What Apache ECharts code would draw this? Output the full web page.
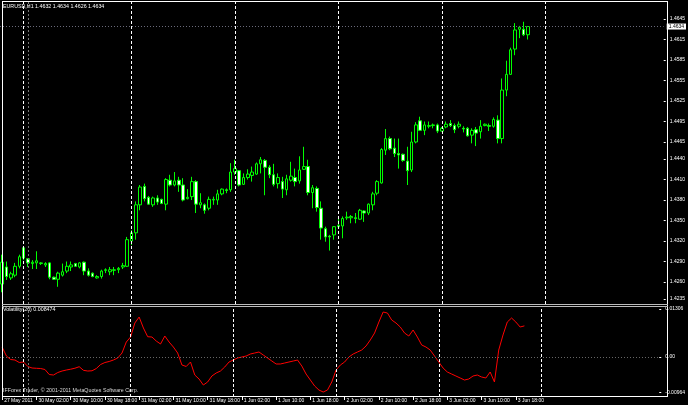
<!DOCTYPE html>
<html><head><meta charset="utf-8">
<script src="https://cdn.jsdelivr.net/npm/echarts@6/dist/echarts.min.js"></script>
<style>html,body{margin:0;padding:0;background:#000;}#c{width:688px;height:405px;}</style>
</head><body><div id="c"></div>
<script>
const symbolTitle = 'EURUSD,H1 1.4632 1.4634 1.4626 1.4634';
const indicatorTitle = 'Volatility(20) 0.008474';
const footerText = 'IFForex Trader, \u00a9 2001-2011 MetaQuotes Software Corp.';

const open = [1.4257,1.4282,1.4266,1.4270,1.4283,1.4310,1.4294,1.4287,1.4288,1.4287,
1.4285,1.4288,1.4267,1.4264,1.4270,1.4276,1.4282,1.4287,1.4282,1.4289,
1.4276,1.4273,1.4266,1.4268,1.4277,1.4275,1.4277,1.4278,1.4282,1.4283,
1.4320,1.4332,1.4373,1.4400,1.4384,1.4373,1.4383,1.4381,1.4374,1.4409,
1.4402,1.4409,1.4402,1.4382,1.4385,1.4407,1.4373,1.4373,1.4368,1.4380,
1.4380,1.4389,1.4395,1.4395,1.4421,1.4423,1.4403,1.4413,1.4416,1.4418,
1.4433,1.4438,1.4428,1.4417,1.4404,1.4407,1.4395,1.4409,1.4413,1.4408,
1.4425,1.4429,1.4391,1.4397,1.4368,1.4338,1.4327,1.4329,1.4341,1.4342,
1.4354,1.4354,1.4354,1.4352,1.4364,1.4361,1.4373,1.4390,1.4405,1.4453,
1.4470,1.4456,1.4448,1.4447,1.4437,1.4424,1.4465,1.4496,1.4482,1.4488,
1.4489,1.4490,1.4481,1.4487,1.4492,1.4489,1.4488,1.4485,1.4485,1.4475,
1.4483,1.4480,1.4489,1.4489,1.4488,1.4497,1.4470,1.4541,1.4564,1.4601,
1.4630,1.4630,1.4622];
const high = [1.4300,1.4290,1.4275,1.4288,1.4300,1.4311,1.4295,1.4292,1.4305,1.4289,
1.4289,1.4289,1.4268,1.4275,1.4287,1.4290,1.4290,1.4288,1.4289,1.4290,
1.4280,1.4274,1.4270,1.4278,1.4280,1.4282,1.4282,1.4282,1.4288,1.4326,
1.4336,1.4378,1.4402,1.4404,1.4386,1.4385,1.4387,1.4382,1.4412,1.4417,
1.4421,1.4414,1.4412,1.4396,1.4414,1.4409,1.4390,1.4375,1.4385,1.4385,
1.4395,1.4397,1.4397,1.4434,1.4439,1.4424,1.4419,1.4425,1.4429,1.4435,
1.4443,1.4440,1.4431,1.4433,1.4419,1.4414,1.4417,1.4436,1.4426,1.4444,
1.4458,1.4439,1.4402,1.4400,1.4378,1.4341,1.4329,1.4342,1.4353,1.4356,
1.4363,1.4358,1.4361,1.4367,1.4365,1.4375,1.4392,1.4409,1.4456,1.4484,
1.4473,1.4470,1.4470,1.4448,1.4458,1.4480,1.4494,1.4502,1.4495,1.4495,
1.4492,1.4492,1.4487,1.4495,1.4497,1.4492,1.4495,1.4488,1.4487,1.4485,
1.4487,1.4497,1.4492,1.4492,1.4501,1.4504,1.4558,1.4584,1.4603,1.4639,
1.4635,1.4641,1.4634];
const low = [1.4245,1.4263,1.4263,1.4267,1.4280,1.4292,1.4282,1.4279,1.4279,1.4285,
1.4282,1.4264,1.4263,1.4253,1.4268,1.4273,1.4276,1.4282,1.4280,1.4270,
1.4268,1.4267,1.4265,1.4265,1.4273,1.4270,1.4270,1.4273,1.4279,1.4282,
1.4314,1.4322,1.4365,1.4378,1.4373,1.4370,1.4373,1.4374,1.4365,1.4400,
1.4400,1.4392,1.4378,1.4381,1.4380,1.4361,1.4368,1.4360,1.4365,1.4373,
1.4373,1.4387,1.4390,1.4392,1.4417,1.4400,1.4402,1.4410,1.4407,1.4417,
1.4419,1.4387,1.4412,1.4400,1.4397,1.4383,1.4387,1.4407,1.4400,1.4404,
1.4424,1.4387,1.4368,1.4363,1.4322,1.4319,1.4306,1.4322,1.4339,1.4324,
1.4351,1.4346,1.4346,1.4351,1.4348,1.4358,1.4365,1.4387,1.4404,1.4446,
1.4453,1.4443,1.4426,1.4436,1.4402,1.4421,1.4463,1.4481,1.4475,1.4485,
1.4485,1.4478,1.4480,1.4485,1.4487,1.4478,1.4485,1.4479,1.4473,1.4463,
1.4459,1.4470,1.4488,1.4481,1.4486,1.4463,1.4463,1.4532,1.4563,1.4592,
1.4617,1.4620,1.4615];
const close = [1.4289,1.4268,1.4272,1.4283,1.4297,1.4295,1.4288,1.4289,1.4291,1.4288,
1.4287,1.4267,1.4264,1.4273,1.4275,1.4283,1.4285,1.4283,1.4288,1.4276,
1.4270,1.4268,1.4268,1.4276,1.4278,1.4278,1.4278,1.4280,1.4284,1.4322,
1.4332,1.4373,1.4399,1.4382,1.4374,1.4383,1.4377,1.4375,1.4410,1.4402,
1.4408,1.4402,1.4380,1.4384,1.4407,1.4374,1.4376,1.4365,1.4381,1.4381,
1.4389,1.4396,1.4394,1.4421,1.4426,1.4402,1.4413,1.4418,1.4421,1.4433,
1.4439,1.4428,1.4417,1.4403,1.4413,1.4396,1.4411,1.4415,1.4407,1.4424,
1.4429,1.4391,1.4398,1.4369,1.4339,1.4326,1.4326,1.4341,1.4343,1.4353,
1.4355,1.4356,1.4353,1.4365,1.4361,1.4374,1.4389,1.4407,1.4454,1.4470,
1.4455,1.4448,1.4446,1.4438,1.4423,1.4465,1.4490,1.4482,1.4490,1.4489,
1.4490,1.4481,1.4485,1.4491,1.4489,1.4483,1.4491,1.4484,1.4474,1.4482,
1.4478,1.4488,1.4491,1.4488,1.4498,1.4470,1.4541,1.4564,1.4600,1.4629,
1.4633,1.4622,1.4634];
const volatility = [0.00272,0.00027,-0.00068,-0.00082,-0.00150,-0.00136,-0.00258,-0.00299,-0.00307,-0.00313,
-0.00340,-0.00476,-0.00490,-0.00422,-0.00381,-0.00354,-0.00332,-0.00305,-0.00264,-0.00362,
-0.00381,-0.00375,-0.00313,-0.00204,-0.00150,-0.00122,-0.00082,-0.00027,0.00109,0.00408,
0.00544,0.00925,0.01088,0.00789,0.00552,0.00544,0.00435,0.00354,0.00571,0.00408,
0.00272,0.00109,-0.00218,-0.00258,-0.00136,-0.00490,-0.00599,-0.00762,-0.00680,-0.00517,
-0.00435,-0.00381,-0.00272,-0.00136,-0.00082,-0.00027,0.00000,0.00027,0.00082,0.00109,
0.00136,0.00054,-0.00027,-0.00109,-0.00190,-0.00190,-0.00163,-0.00136,-0.00109,-0.00082,
-0.00245,-0.00463,-0.00626,-0.00789,-0.00898,-0.00952,-0.00898,-0.00680,-0.00354,-0.00218,
-0.00136,0.00000,0.00082,0.00136,0.00190,0.00299,0.00463,0.00653,0.00952,0.01224,
0.01197,0.01007,0.00925,0.00816,0.00653,0.00571,0.00735,0.00544,0.00327,0.00272,
0.00190,0.00027,-0.00136,-0.00299,-0.00408,-0.00463,-0.00517,-0.00571,-0.00626,-0.00599,
-0.00517,-0.00490,-0.00544,-0.00571,-0.00408,-0.00680,0.00190,0.00599,0.00952,0.01061,
0.00952,0.00816,0.00847];

const priceTicks = [1.4645,1.4615,1.4585,1.4555,1.4525,1.4495,1.4465,1.4440,1.4410,1.4380,1.4350,1.4320,1.4290,1.4260,1.4235];
const indicatorTicks = [0.01306, 0, -0.00964];
const tickLabels = ['27 May 2011','30 May 02:00','30 May 10:00','30 May 18:00','31 May 02:00','31 May 10:00','31 May 18:00','1 Jun 02:00','1 Jun 10:00','1 Jun 18:00','2 Jun 02:00','2 Jun 10:00','2 Jun 18:00','3 Jun 02:00','3 Jun 10:00','3 Jun 18:00'];
const separators = ['27 May 23:00','31 May 00:00','1 Jun 00:00','2 Jun 00:00','3 Jun 00:00','4 Jun 00:00'];
const dimSeparators = ['30 May 00:00'];
const sessionDays = [['27 May',18],['30 May',0],['31 May',0],['1 Jun',0],['2 Jun',0],['3 Jun',0],['4 Jun',0],['5 Jun',0]];
const slotCount = 154;

const categories = [];
sessionDays.forEach(([d, h0]) => { for (let h = h0; h < 24; h++) categories.push(d + ' ' + String(h).padStart(2,'0') + ':00'); });
categories.length = slotCount;

const FONT = 'Liberation Sans';
const candleData = open.map((o, i) => [o, close[i], low[i], high[i]]);
const lastClose = close[close.length - 1];

const sepLines = separators.map(s => ({xAxis: s, lineStyle: {color: '#ffffff', type: [3, 2], width: 1}, label: {show: false}}))
  .concat(dimSeparators.map(s => ({xAxis: s, lineStyle: {color: '#777777', type: [2, 2], width: 1}, label: {show: false}})));

const isTick = (index, value) => index === 0 || (index > 0 && tickLabels.indexOf(value) >= 0);

const chart = echarts.init(document.getElementById('c'), null, {renderer: 'canvas'});
chart.setOption({
  backgroundColor: '#000000',
  animation: false,
  title: [
    {text: symbolTitle, left: 3, top: 4, padding: 0, textStyle: {color: '#ffffff', fontSize: 5.3, fontWeight: 'normal', fontFamily: FONT}},
    {text: indicatorTitle, left: 3, top: 307, padding: 0, textStyle: {color: '#ffffff', fontSize: 5.3, fontWeight: 'normal', fontFamily: FONT}},
    {text: footerText, left: 3, top: 388, padding: 0, textStyle: {color: '#dddddd', fontSize: 5.3, fontWeight: 'normal', fontFamily: FONT}}
  ],
  grid: [
    {left: 0, top: 1, width: 666, height: 303},
    {left: 0, top: 306, width: 666, height: 91}
  ],
  xAxis: [
    {type: 'category', gridIndex: 0, data: categories, boundaryGap: true,
     axisLine: {show: false, onZero: false}, axisTick: {show: false}, axisLabel: {show: false}, splitLine: {show: false}},
    {type: 'category', gridIndex: 1, data: categories, boundaryGap: true, position: 'bottom',
     axisLine: {show: false, onZero: false},
     axisTick: {show: true, alignWithLabel: true, interval: isTick, length: 3, lineStyle: {color: '#ffffff'}},
     axisLabel: {show: true, interval: isTick, align: 'left', margin: 1, padding: [0, 0, 0, 2],
       color: '#ffffff', fontSize: 5, fontFamily: FONT,
       formatter: (v, i) => i === 0 ? tickLabels[0] : (tickLabels.indexOf(v) >= 0 ? v : '')},
     splitLine: {show: false}}
  ],
  yAxis: [
    {type: 'value', gridIndex: 0, position: 'right', min: 1.42278, max: 1.46714,
     axisLine: {show: false}, splitLine: {show: false},
     axisTick: {show: true, customValues: priceTicks, length: 2, lineStyle: {color: '#ffffff'}},
     axisLabel: {show: true, customValues: priceTicks, margin: 6, color: '#ffffff', fontSize: 5, fontFamily: FONT,
       formatter: v => v.toFixed(4)}},
    {type: 'value', gridIndex: 1, position: 'right', min: -0.01088, max: 0.01388,
     axisLine: {show: false}, splitLine: {show: false},
     axisTick: {show: true, customValues: indicatorTicks, length: 2, lineStyle: {color: '#ffffff'}},
     axisLabel: {show: true, customValues: indicatorTicks, margin: 6, color: '#ffffff', fontSize: 5, fontFamily: FONT,
       formatter: v => v === 0 ? '0.00' : v.toFixed(5)}}
  ],
  series: [
    {type: 'line', xAxisIndex: 0, yAxisIndex: 0, data: close, symbol: 'none', showSymbol: false, silent: true,
     lineStyle: {opacity: 0}, z: 1,
     markLine: {symbol: ['none', 'none'], silent: true, animation: false, precision: 4,
       data: [{yAxis: lastClose, lineStyle: {color: '#6a6a7a', type: [1, 2], width: 1},
         label: {show: true, position: 'end', distance: 3, formatter: () => lastClose.toFixed(4),
           backgroundColor: '#ffffff', color: '#000000', fontSize: 5, fontFamily: FONT, padding: [1, 2, 0, 2]}}]}},
    {type: 'candlestick', xAxisIndex: 0, yAxisIndex: 0, data: candleData, barWidth: 3, z: 3,
     itemStyle: {color: '#000000', color0: '#ffffff', borderColor: '#00ff00', borderColor0: '#00ff00', borderWidth: 1},
     markLine: {symbol: ['none', 'none'], silent: true, animation: false, data: sepLines}},
    {type: 'line', xAxisIndex: 1, yAxisIndex: 1, data: volatility, showSymbol: false, symbol: 'none',
     lineStyle: {color: '#ff0000', width: 1}, itemStyle: {color: '#ff0000'},
     markLine: {symbol: ['none', 'none'], silent: true, animation: false,
       data: sepLines.concat([{yAxis: 0, lineStyle: {color: '#666666', type: [1, 2], width: 1}, label: {show: false}}])}}
  ],
  graphic: [
    {type: 'line', z: 100, shape: {x1: 2, y1: 1.5, x2: 668, y2: 1.5}, style: {stroke: '#ffffff', lineWidth: 1}},
    {type: 'line', z: 100, shape: {x1: 2.5, y1: 1, x2: 2.5, y2: 397}, style: {stroke: '#ffffff', lineWidth: 1}},
    {type: 'line', z: 100, shape: {x1: 667.5, y1: 1, x2: 667.5, y2: 397}, style: {stroke: '#ffffff', lineWidth: 1}},
    {type: 'line', z: 100, shape: {x1: 2, y1: 304.5, x2: 668, y2: 304.5}, style: {stroke: '#bbbbbb', lineWidth: 1}},
    {type: 'line', z: 100, shape: {x1: 2, y1: 306.5, x2: 668, y2: 306.5}, style: {stroke: '#bbbbbb', lineWidth: 1}},
    {type: 'line', z: 100, shape: {x1: 2, y1: 396.5, x2: 668, y2: 396.5}, style: {stroke: '#ffffff', lineWidth: 1}}
  ]
});
</script>
</body></html>
